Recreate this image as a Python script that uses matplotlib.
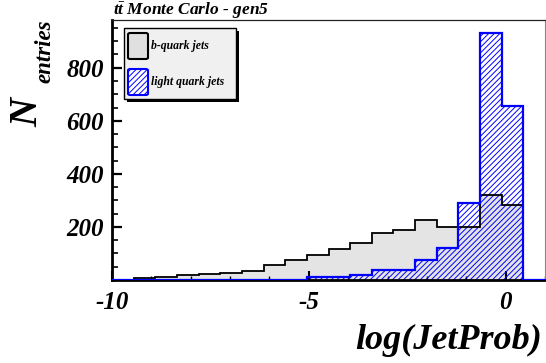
import numpy as np
import matplotlib
matplotlib.use("Agg")
import matplotlib.pyplot as plt
from matplotlib.ticker import MultipleLocator, FixedLocator
from matplotlib.patches import Rectangle, FancyBboxPatch

plt.rcParams["axes.unicode_minus"] = False
plt.rcParams["hatch.linewidth"] = 0.7
plt.rcParams["mathtext.fontset"] = "custom"
plt.rcParams["mathtext.it"] = "Liberation Serif:italic:bold"
plt.rcParams["mathtext.rm"] = "Liberation Serif:italic:bold"
plt.rcParams["mathtext.bf"] = "Liberation Serif:italic:bold"

# histogram binning of log(JetProb)
bin_lo, bin_hi, n_bins = -10.0, 1.0, 20

# entries per bin
b_jets = [1, 7, 12, 17, 22, 27, 33, 56, 77, 96, 117, 139, 176, 189, 227, 199, 201, 319, 284, 0]
light_jets = [0, 0, 0, 0, 0, 0, 0, 0, 0, 13, 11, 19, 38, 36, 76, 120, 292, 931, 656, 0]

x_ticks = [-10, -5, 0]
x_ticklabels = ["-10", "-5", "0"]
y_ticks = [200, 400, 600, 800]
y_ticklabels = ["200", "400", "600", "800"]

title = r"$t\bar{t}$ Monte Carlo - gen5"
x_title = "log(JetProb)"
leg_labels = ["b-quark jets", "light quark jets"]

W, H = 546, 363
serif = "Liberation Serif"
HATCH = "//////"
fig = plt.figure(figsize=(W / 100, H / 100), dpi=100)


def fx(px):
    return px / W


def fy(py):
    return 1 - py / H


ax = fig.add_axes([fx(112), fy(280), fx(545) - fx(112), fy(20) - fy(280)])
edges = np.linspace(bin_lo, bin_hi, n_bins + 1)

ax.stairs(b_jets, edges, fill=True, color="#e4e4e4", linewidth=0, zorder=1)
ax.stairs(light_jets, edges, fill=True, facecolor="none", edgecolor="#0000ff",
          hatch=HATCH, linewidth=0, zorder=2)
ax.stairs(b_jets, edges, color="black", linewidth=1.3, zorder=3)
ax.stairs(light_jets, edges, color="#0000ff", linewidth=1.6, zorder=4)

ax.set_xlim(-10, 1)
ax.set_ylim(0, 980)

for side in ("left", "bottom"):
    ax.spines[side].set_linewidth(2.0)
    ax.spines[side].set_color("black")
ax.spines["top"].set_linewidth(0.9)
ax.spines["top"].set_color("#222222")
ax.spines["right"].set_linewidth(0.8)
ax.spines["right"].set_color("#888888")

ax.xaxis.set_major_locator(FixedLocator(x_ticks))
ax.set_xticklabels(x_ticklabels)
ax.xaxis.set_minor_locator(MultipleLocator(1))
ax.yaxis.set_major_locator(FixedLocator(y_ticks))
ax.set_yticklabels(y_ticklabels)
ax.yaxis.set_minor_locator(MultipleLocator(50))

ax.tick_params(axis="x", which="major", direction="in", length=6.5, width=1.5, pad=8)
ax.tick_params(axis="x", which="minor", direction="in", length=3, width=1.0)
ax.tick_params(axis="y", which="major", direction="in", length=7.5, width=1.6, pad=6)
ax.tick_params(axis="y", which="minor", direction="in", length=4, width=1.2)
ax.tick_params(top=False, right=False, which="both")

for lab in ax.get_xticklabels() + ax.get_yticklabels():
    lab.set_fontfamily(serif)
    lab.set_fontweight("bold")
    lab.set_fontstyle("italic")
    lab.set_fontsize(18)

txt = dict(family=serif, weight="bold", style="italic", color="black")

# title
fig.text(fx(113), fy(15), title, ha="left", va="baseline", fontsize=12.5, **txt)

# axis titles
fig.text(fx(542), fy(349), x_title, ha="right", va="baseline", fontsize=26, **txt)
fig.text(fx(37), fy(127), "N", ha="left", va="baseline", rotation=90,
         rotation_mode="anchor", fontsize=29, **txt)
fig.text(fx(50), fy(83), "entries", ha="left", va="baseline", rotation=90,
         rotation_mode="anchor", fontsize=16.5, **txt)

# legend box with shadow
bx0, by0, bx1, by1 = 124, 28, 236, 99
fig.patches.append(Rectangle((fx(bx0 + 3), fy(by1 + 3)), fx(bx1) - fx(bx0), fy(by0) - fy(by1),
                             transform=fig.transFigure, facecolor="black", edgecolor="none"))
fig.patches.append(Rectangle((fx(bx0), fy(by1)), fx(bx1) - fx(bx0), fy(by0) - fy(by1),
                             transform=fig.transFigure, facecolor="#f0f0f0",
                             edgecolor="black", linewidth=1.0))

swatches = [
    dict(y0=33, y1=59, face="#e0e0e0", edge="black", hatch=None),
    dict(y0=69, y1=95, face="white", edge="#0000ff", hatch=HATCH),
]
for sw, label in zip(swatches, leg_labels):
    p = FancyBboxPatch((fx(128), fy(sw["y1"])), fx(148) - fx(128), fy(sw["y0"]) - fy(sw["y1"]),
                       boxstyle="round,pad=0,rounding_size=0.004",
                       transform=fig.transFigure, facecolor=sw["face"],
                       edgecolor=sw["edge"], linewidth=1.5, hatch=sw["hatch"])
    fig.patches.append(p)
    fig.text(fx(151), fy((sw["y0"] + sw["y1"]) / 2), label, ha="left", va="center",
             fontsize=8.5, **txt)

fig.savefig("out.png", dpi=100)
